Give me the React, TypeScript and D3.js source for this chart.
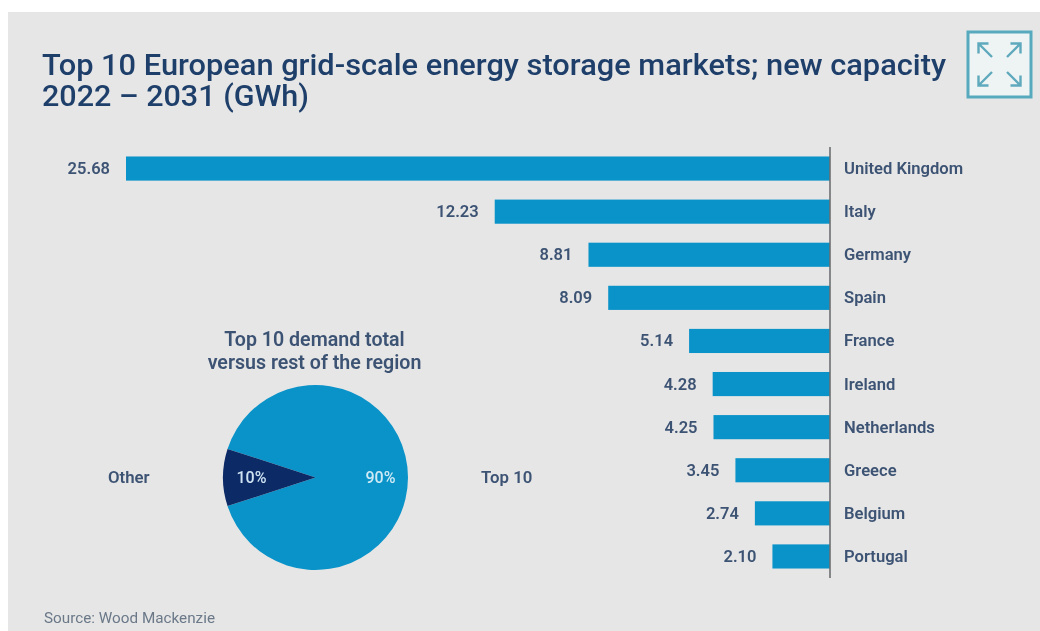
import React from "react";
import * as d3 from "d3";

const countries = ["United Kingdom", "Italy", "Germany", "Spain", "France", "Ireland", "Netherlands", "Greece", "Belgium", "Portugal"];
const capacity = [25.68, 12.23, 8.81, 8.09, 5.14, 4.28, 4.25, 3.45, 2.74, 2.1];
const shareLabels = ["Top 10", "Other"];
const shareValues = [90, 10];
const titleLines = ["Top 10 European grid-scale energy storage markets; new capacity", "2022 – 2031 (GWh)"];
const pieTitleLines = ["Top 10 demand total", "versus rest of the region"];
const sourceNote = "Source: Wood Mackenzie";

const BLUE = "#0a93c9";
const NAVY = "#0b2a66";
const INK = "#3d5374";
const TITLE = "#1f3f6b";
const FONT = "Roboto, sans-serif";

const W = 1040;
const H = 631;

// Bars grow leftwards from the axis line
const x = d3.scaleLinear().domain([0, 25.68]).range([830, 126]);
const y = d3.scaleBand().domain(countries).range([147, 578]).paddingInner(0.44).paddingOuter(0.22);

const pieCx = 315.5;
const pieCy = 477.5;
const pieR = 92.5;
// The "Other" wedge is centred on the left of the pie
const pieLayout = d3
  .pie<number>()
  .sort(null)
  .startAngle(-Math.PI / 2 + (Math.PI * 2 * 0.05))
  .endAngle((3 * Math.PI) / 2 + (Math.PI * 2 * 0.05));
const arcPath = d3.arc<d3.PieArcDatum<number>>().innerRadius(0).outerRadius(pieR);
const pieColors = [BLUE, NAVY];
const pieArcs = pieLayout(shareValues);
const percentPos = [
  { dx: 65, color: "#cfeaf5" },
  { dx: -64, color: "#cfe3f2" },
];

// Expand icon: four arrows pointing out from the middle of the box
const arrowDirs: [number, number][] = [[-1, -1], [1, -1], [-1, 1], [1, 1]];

export default function App() {
  const blur = "blur(0.55px)";
  return (
    <svg
      width={W}
      height={H}
      viewBox={`0 0 ${W} ${H}`}
      style={{ position: "fixed", left: 0, top: 0, background: "#fff", fontFamily: FONT }}
    >
      <rect x={8} y={12} width={W - 8} height={H - 12} fill="#e6e6e6" />
      <g style={{ filter: blur }}>
        {titleLines.map((t, i) => (
          <text key={t} x={42} y={75 + i * 30.5} fontSize={29} fontWeight={500} fill={TITLE} textLength={i === 0 ? 904 : 267} lengthAdjust="spacingAndGlyphs">
            {t}
          </text>
        ))}

        <rect x={968} y={32} width={63} height={65} fill="#eef3f4" stroke="#57a9bd" strokeWidth={3} />
        {arrowDirs.map(([dx, dy]) => {
          const cx = 999.5;
          const cy = 64.5;
          const x0 = cx + dx * 7.5;
          const y0 = cy + dy * 7.5;
          const x1 = cx + dx * 21;
          const y1 = cy + dy * 21;
          return (
            <path
              key={`${dx}${dy}`}
              d={`M${x0},${y0}L${x1},${y1}M${x1 - dx * 10},${y1}L${x1},${y1}L${x1},${y1 - dy * 10}`}
              fill="none"
              stroke="#5fa9bd"
              strokeWidth={2.4}
            />
          );
        })}

        {countries.map((c, i) => {
          const by = y(c)!;
          const bh = y.bandwidth();
          return (
            <g key={c}>
              <rect x={x(capacity[i])} y={by} width={x(0) - x(capacity[i])} height={bh} fill={BLUE} />
              <text x={x(capacity[i]) - 16} y={by + bh / 2 + 5.5} textAnchor="end" fontSize={16.5} fontWeight={600} fill={INK}>
                {capacity[i].toFixed(2)}
              </text>
              <text x={844} y={by + bh / 2 + 5.5} fontSize={16.6} fontWeight={600} fill={INK}>
                {c}
              </text>
            </g>
          );
        })}
        <line x1={830} x2={830} y1={147} y2={578} stroke="#6c6f72" strokeWidth={1.6} />

        {pieTitleLines.map((t, i) => (
          <text key={t} x={314.5} y={346 + i * 23} textAnchor="middle" fontSize={19.6} fontWeight={600} fill={INK}>
            {t}
          </text>
        ))}
        <g transform={`translate(${pieCx},${pieCy})`}>
          {pieArcs.map((a, i) => (
            <path key={shareLabels[i]} d={arcPath(a)!} fill={pieColors[i]} />
          ))}
          {shareValues.map((v, i) => (
            <text key={v} x={percentPos[i].dx} y={5.5} textAnchor="middle" fontSize={16} fontWeight={500} fill={percentPos[i].color}>
              {v}%
            </text>
          ))}
        </g>
        <text x={108} y={483} fontSize={16.8} fontWeight={600} fill={INK}>{shareLabels[1]}</text>
        <text x={481} y={483} fontSize={16.8} fontWeight={600} fill={INK}>{shareLabels[0]}</text>

        <text x={44} y={623} fontSize={14} fill="#6a7888" textLength={171} lengthAdjust="spacingAndGlyphs">{sourceNote}</text>
      </g>
    </svg>
  );
}
